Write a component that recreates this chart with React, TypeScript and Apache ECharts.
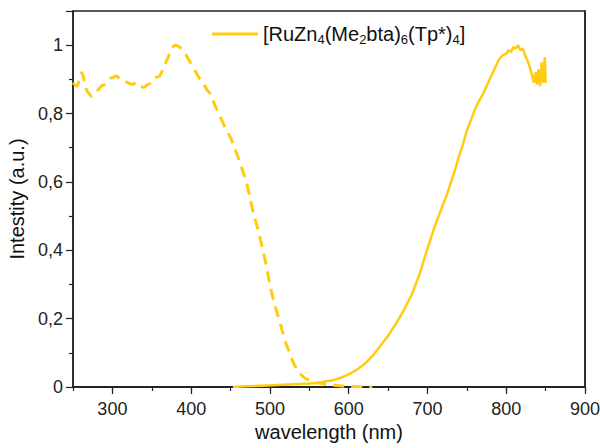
import React, { useEffect, useRef } from "react";
import * as echarts from "echarts";

const absX = [250, 255, 258, 261, 264, 267, 270, 274, 278, 282, 286, 290, 295, 300, 305, 310, 315, 320, 325, 330, 335, 340, 345, 350, 355, 360, 365, 370, 375, 380, 385, 390, 395, 400, 405, 410, 415, 420, 425, 430, 435, 440, 445, 450, 455, 460, 465, 470, 475, 480, 485, 490, 495, 500, 505, 510, 515, 520, 525, 530, 535, 540, 545, 550, 560, 570, 580, 590, 600, 610, 620, 630];
const absY = [0.89, 0.88, 0.9, 0.92, 0.9, 0.87, 0.86, 0.85, 0.86, 0.87, 0.88, 0.885, 0.9, 0.905, 0.91, 0.9, 0.895, 0.89, 0.885, 0.89, 0.88, 0.877, 0.885, 0.89, 0.905, 0.91, 0.935, 0.96, 0.99, 1.0, 0.995, 0.985, 0.965, 0.945, 0.925, 0.905, 0.89, 0.87, 0.855, 0.825, 0.8, 0.775, 0.75, 0.73, 0.7, 0.67, 0.635, 0.6, 0.55, 0.5, 0.46, 0.41, 0.36, 0.3, 0.25, 0.21, 0.17, 0.13, 0.1, 0.07, 0.05, 0.035, 0.025, 0.02, 0.012, 0.008, 0.005, 0.003, 0.002, 0.001, 0, 0];

const emX = [453, 470, 490, 510, 530, 550, 560, 570, 580, 590, 600, 610, 620, 630, 640, 650, 660, 670, 680, 690, 700, 705, 710, 715, 720, 725, 730, 735, 740, 745, 750, 755, 760, 765, 770, 775, 780, 785, 790, 795, 800, 803, 806, 809, 812, 815, 818, 821, 824, 827, 830, 833, 835, 837, 839, 841, 843, 845, 847, 849, 850];
const emY = [0, 0.002, 0.004, 0.006, 0.008, 0.01, 0.012, 0.016, 0.02, 0.027, 0.037, 0.05, 0.067, 0.09, 0.12, 0.15, 0.185, 0.225, 0.27, 0.33, 0.405, 0.44, 0.475, 0.505, 0.535, 0.565, 0.6, 0.635, 0.675, 0.71, 0.75, 0.78, 0.81, 0.835, 0.855, 0.88, 0.905, 0.93, 0.955, 0.97, 0.975, 0.985, 0.98, 0.995, 0.99, 1.0, 0.985, 0.99, 0.97, 0.955, 0.935, 0.91, 0.89, 0.92, 0.885, 0.93, 0.88, 0.95, 0.89, 0.965, 0.89];

const xMajorTicks = [300, 400, 500, 600, 700, 800, 900];
const yTickLabels = ["0", "0,2", "0,4", "0,6", "0,8", "1"];

const seriesName = "[RuZn4(Me2bta)6(Tp*)4]";
const COLOR = "#FFCC11";
const FONT = "Liberation Sans, Arial, sans-serif";
const AXIS = "#222";

export default function App() {
  const ref = useRef<HTMLDivElement>(null);
  useEffect(() => {
    if (!ref.current) return;
    const chart = echarts.init(ref.current, null, { renderer: "svg" });
    const absData = absX.map((x, i) => [x, absY[i]]);
    const emData = emX.map((x, i) => [x, emY[i]]);
    chart.setOption({
      animation: false,
      backgroundColor: "#fff",
      textStyle: { fontFamily: FONT },
      grid: [
        { left: 73, right: 15, top: 11, bottom: 61, show: true, borderColor: AXIS, borderWidth: 1.5, backgroundColor: "transparent", containLabel: false, outerBoundsMode: "none" },
        { left: 73 + (50 * 512) / 650, right: 15, top: 11, bottom: 61, show: false, containLabel: false, outerBoundsMode: "none" },
      ],
      legend: {
        data: [seriesName],
        left: 207,
        top: 19,
        icon: "rect",
        itemWidth: 46,
        itemHeight: 3,
        formatter: () => "{a|[RuZn}{b|4}{a|(Me}{b|2}{a|bta)}{b|6}{a|(Tp*)}{b|4}{a|]}",
        textStyle: {
          rich: {
            a: { fontSize: 20, color: "#111", fontFamily: FONT },
            b: { fontSize: 13, color: "#111", fontFamily: FONT, padding: [10, 0, 0, 0] },
          },
        },
      },
      xAxis: [
        {
          type: "value",
          gridIndex: 0,
          min: 250,
          max: 900,
          interval: 50,
          name: "wavelength (nm)",
          nameLocation: "middle",
          nameGap: 35,
          nameTextStyle: { fontSize: 20, color: "#111", fontFamily: FONT },
          axisLine: { show: true, lineStyle: { color: AXIS, width: 1.5 } },
          axisTick: { show: true, length: 4, lineStyle: { color: AXIS, width: 1.2 } },
          axisLabel: { show: false },
          splitLine: { show: false },
        },
        {
          type: "value",
          gridIndex: 1,
          min: 300,
          max: 900,
          interval: 100,
          axisLine: { show: false },
          axisTick: { show: true, length: 7, lineStyle: { color: AXIS, width: 1.2 } },
          axisLabel: {
            show: true,
            fontSize: 18,
            color: "#222",
            fontFamily: FONT,
            margin: 13,
            formatter: (v: number) => (xMajorTicks.includes(v) ? String(v) : ""),
          },
          splitLine: { show: false },
        },
        {
          type: "value",
          gridIndex: 0,
          position: "top",
          min: 250,
          max: 900,
          axisLine: { show: true, lineStyle: { color: AXIS, width: 1.5 } },
          axisTick: { show: false },
          axisLabel: { show: false },
          splitLine: { show: false },
        },
      ],
      yAxis: [
        {
          type: "value",
          gridIndex: 0,
          min: 0,
          max: 1.1,
          interval: 0.2,
          name: "Intestity (a.u.)",
          nameLocation: "middle",
          nameGap: 44,
          nameTextStyle: { fontSize: 20, color: "#111", fontFamily: FONT },
          axisLine: { show: true, lineStyle: { color: AXIS, width: 1.5 } },
          axisTick: { show: true, length: 7, lineStyle: { color: AXIS, width: 1.2 } },
          minorTick: { show: true, splitNumber: 2, length: 4, lineStyle: { color: AXIS, width: 1.2 } },
          axisLabel: {
            fontSize: 18,
            color: "#222",
            fontFamily: FONT,
            margin: 10,
            formatter: (v: number) => {
              const idx = Math.round(v / 0.2);
              if (Math.abs(v - idx * 0.2) > 1e-6) return "";
              return yTickLabels[idx] ?? "";
            },
          },
          splitLine: { show: false },
        },
        { type: "value", gridIndex: 1, min: 0, max: 1.1, show: false },
        {
          type: "value",
          gridIndex: 0,
          position: "right",
          min: 0,
          max: 1.1,
          axisLine: { show: true, lineStyle: { color: AXIS, width: 1.5 } },
          axisTick: { show: false },
          axisLabel: { show: false },
          splitLine: { show: false },
        },
      ],
      series: [
        {
          name: "absorption",
          type: "line",
          xAxisIndex: 0,
          yAxisIndex: 0,
          data: absData,
          showSymbol: false,
          smooth: 0.3,
          lineStyle: { color: COLOR, width: 3, type: [11, 7] },
          itemStyle: { color: COLOR },
          z: 3,
        },
        {
          name: seriesName,
          type: "line",
          xAxisIndex: 0,
          yAxisIndex: 0,
          data: emData,
          showSymbol: false,
          lineStyle: { color: COLOR, width: 2.5 },
          itemStyle: { color: COLOR },
          z: 4,
        },
      ],
    });
    return () => chart.dispose();
  }, []);
  return <div ref={ref} style={{ width: 600, height: 448, position: "absolute", left: 0, top: 0 }} />;
}
